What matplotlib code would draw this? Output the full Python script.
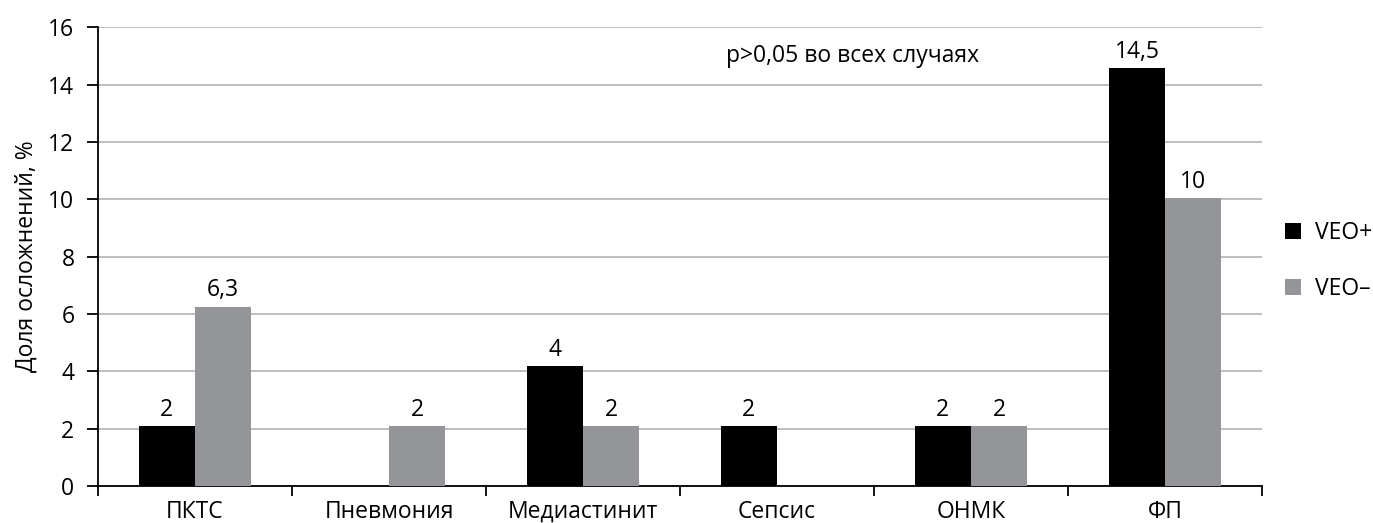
import numpy as np
import matplotlib.pyplot as plt

plt.rcParams['font.family'] = ['Open Sans', 'DejaVu Sans']

categories = ['ПКТС', 'Пневмония', 'Медиастинит', 'Сепсис', 'ОНМК', 'ФП']
veo_plus = [2.08, 0, 4.17, 2.08, 2.08, 14.58]
veo_minus = [6.25, 2.08, 2.08, 0, 2.08, 10.04]
labels_plus = ['2', '', '4', '2', '2', '14,5']
labels_minus = ['6,3', '2', '2', '', '2', '10']

fs = 16.5

fig = plt.figure(figsize=(13.73, 5.23), dpi=100)
ax = fig.add_axes([0.0714, 0.0707, 0.8478, 0.8773])

x = np.arange(len(categories))
w = 0.29
b1 = ax.bar(x - w / 2, veo_plus, w, color='black', label='VEO+', zorder=3)
b2 = ax.bar(x + w / 2, veo_minus, w, color='#939598', label='VEO–', zorder=3)

for bars, labs in ((b1, labels_plus), (b2, labels_minus)):
    for bar, lab in zip(bars, labs):
        if lab:
            ax.text(bar.get_x() + bar.get_width() / 2, bar.get_height() + 0.15, lab,
                    ha='center', va='bottom', fontsize=fs)

ax.set_xlim(-0.5, len(categories) - 0.5)
ax.set_ylim(0, 16)
ax.set_yticks(range(0, 17, 2))
ax.yaxis.grid(True, color='#b3b3b3', linewidth=1.2, zorder=0)
ax.set_axisbelow(True)

ax.set_xticks(np.arange(-0.5, len(categories), 1))
ax.set_xticklabels([])
ax.set_xticks(x, minor=True)
ax.set_xticklabels(categories, minor=True)
ax.tick_params(axis='x', which='major', length=7, width=1.3, direction='out')
ax.tick_params(axis='x', which='minor', length=0, labelsize=fs, pad=10)
ax.tick_params(axis='y', length=8, width=1.3, labelsize=fs, pad=9)

for s in ('top', 'right'):
    ax.spines[s].set_visible(False)
for s in ('left', 'bottom'):
    ax.spines[s].set_linewidth(1.3)

ax.set_ylabel('Доля осложнений, %', fontsize=fs, labelpad=7)
ax.text(3.39, 15.0, 'p>0,05 во всех случаях', ha='center', va='center', fontsize=fs)

ax.legend(loc='center left', bbox_to_anchor=(1.0, 0.49), frameon=False,
          fontsize=fs, handlelength=0.7, handleheight=0.7, handletextpad=0.6,
          labelspacing=1.4, borderaxespad=0.6)

fig.savefig('out.png', dpi=100)
